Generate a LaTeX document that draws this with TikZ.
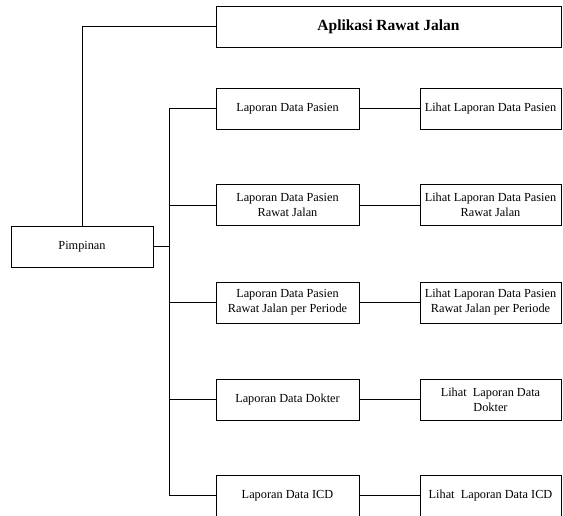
\documentclass[tikz,border=0pt]{standalone}
\usepackage{fontspec}
\setmainfont{Liberation Serif}
\usetikzlibrary{calc}

\tikzset{
	menubox/.style={draw=black, line width=0.8pt, minimum height=41pt, inner sep=2pt,
		align=center, font=\fontsize{12.3}{15}\selectfont},
	laporan/.style={menubox, minimum width=143pt},
	lihat/.style={menubox, minimum width=141pt},
	garis/.style={line width=0.8pt, black}
}

\begin{document}
\begin{tikzpicture}[x=1pt, y=1pt]
		%%%%% START %%%%%
		
		\useasboundingbox (0, 0) rectangle (563, 515);
		
		\node[menubox, minimum width=345pt, font=\fontsize{15.5}{18}\selectfont\bfseries] (aplikasi) at (388.5, 488.5) {Aplikasi Rawat Jalan};
		\node[menubox, minimum width=142pt] (pimpinan) at (82, 268.5) {Pimpinan};
		
		\node[laporan] (lap1) at (287.5, 406.5) {Laporan Data Pasien};
		\node[laporan] (lap2) at (287.5, 310) {Laporan Data Pasien\\Rawat Jalan};
		\node[laporan] (lap3) at (287.5, 212.5) {Laporan Data Pasien\\Rawat Jalan per Periode};
		\node[laporan] (lap4) at (287.5, 115.5) {Laporan Data Dokter};
		\node[laporan] (lap5) at (287.5, 19.5) {Laporan Data ICD};
		
		\node[lihat] (lih1) at (490.5, 406.5) {Lihat Laporan Data Pasien};
		\node[lihat] (lih2) at (490.5, 310) {Lihat Laporan Data Pasien\\Rawat Jalan};
		\node[lihat] (lih3) at (490.5, 212.5) {Lihat Laporan Data Pasien\\Rawat Jalan per Periode};
		\node[lihat] (lih4) at (490.5, 115.5) {Lihat~ Laporan Data\\Dokter};
		\node[lihat] (lih5) at (490.5, 19.5) {Lihat~ Laporan Data ICD};
		
		\coordinate (bus) at (169, 0);
		
		\draw[garis] (pimpinan.north) |- (aplikasi.west);
		\draw[garis] (pimpinan.east) -- (pimpinan.east -| bus);
		\draw[garis] (lap1.west -| bus) -- (lap5.west -| bus);
		
		\foreach \i in {1,...,5}{
			\draw[garis] (lap\i.west -| bus) -- (lap\i.west);
			\draw[garis] (lap\i.east) -- (lih\i.west);
		}
		
		%%%%% END %%%%%
	\end{tikzpicture}
\end{document}
